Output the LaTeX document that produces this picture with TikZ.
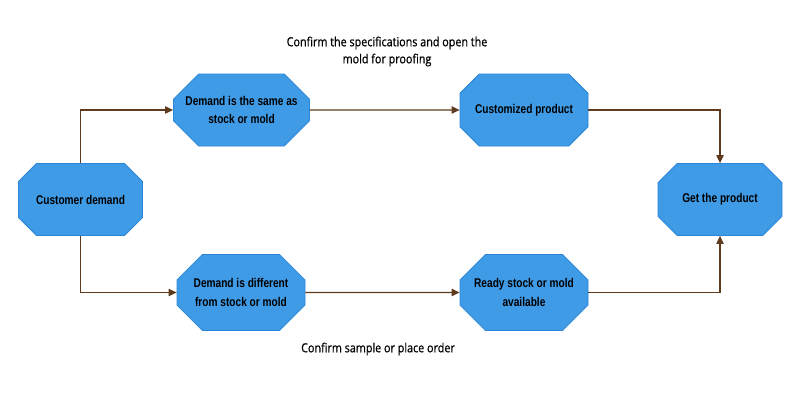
\documentclass[tikz,border=0pt]{standalone}
\usepackage{fontspec}
\newfontfamily\boxfont[FakeStretch=0.8]{Liberation Sans}
\newfontfamily\notefont[FakeStretch=0.86,FakeBold=0.7]{Open Sans}
\usetikzlibrary{shapes.misc,arrows.meta,positioning}
\definecolor{boxblue}{HTML}{3F9BE6}
\definecolor{boxline}{HTML}{2C86D8}
\definecolor{flowbrown}{HTML}{5E3B1C}

\begin{document}
\begin{tikzpicture}[x=0.75pt, y=-0.75pt,
    stage/.style={chamfered rectangle, chamfered rectangle xsep=9pt, chamfered rectangle ysep=10pt,
      draw=boxline, fill=boxblue, line width=0.6pt, minimum width=96pt, minimum height=54pt,
      inner sep=0pt, align=center, font=\boxfont\bfseries\fontsize{9.5}{13.8}\selectfont},
    flow/.style={draw=flowbrown, line width=0.8pt, -{Triangle[length=6pt,width=5.5pt]}},
    note/.style={align=center, font=\notefont\fontsize{9.4}{12.8}\selectfont}]
  \fill[white] (0,0) rectangle (800,400);

  \node (cust) [stage, minimum width=93pt] at (80.5,199.5) {Customer demand};
  \node (same) [stage] at (241.5,110) {Demand is the same as\\stock or mold};
  \node (custom) [stage] at (524,110) {Customized product};
  \node (diff) [stage, minimum height=57pt] at (241,292.5) {Demand is different\\from stock or mold};
  \node (ready) [stage, minimum height=57pt] at (524,292.5) {Ready stock or mold\\available};
  \node (get) [stage, minimum width=93pt] at (720,199.5) {Get the product};

  \node (top) [note] at (387,51.5) {Confirm the specifications and open the\\mold for proofing};
  \node (bottom) [note] at (378,349) {Confirm sample or place order};

  % upper and lower routes
  \draw[flow] (cust.north) |- (same.west);
  \draw[flow] (cust.south) |- (diff.west);
  \draw[flow] (same) -- (custom);
  \draw[flow] (diff) -- (ready);
  \draw[flow] (custom.east) -| (get.north);
  \draw[flow] (ready.east) -| (get.south);
\end{tikzpicture}
\end{document}
